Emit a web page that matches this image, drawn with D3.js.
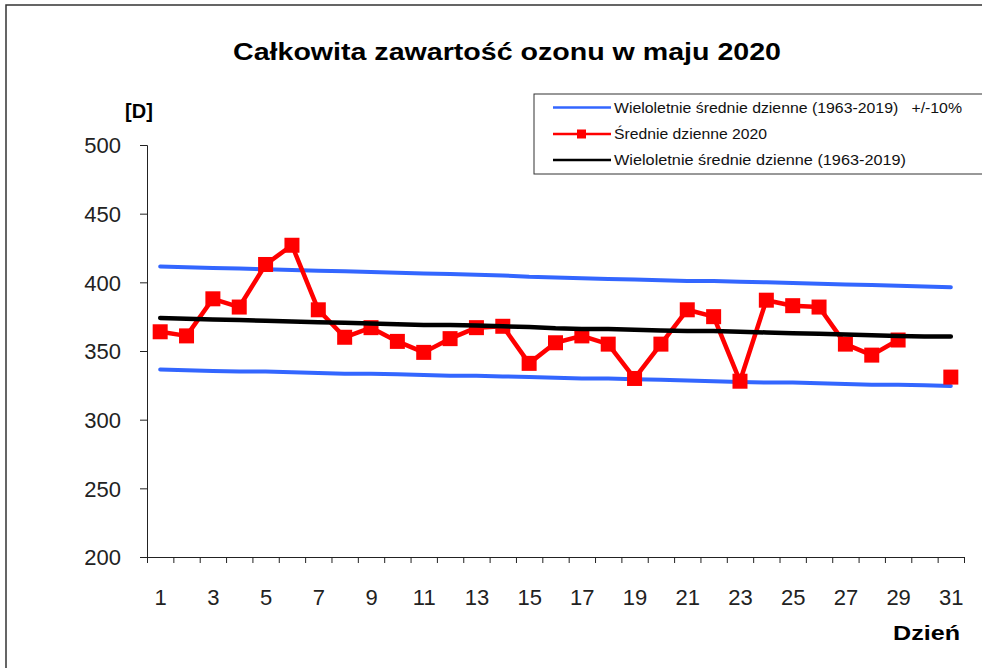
<!DOCTYPE html>
<html>
<head>
<meta charset="utf-8">
<script src="https://cdn.jsdelivr.net/npm/d3@7"></script>
<style>
  body { margin: 0; background: #fff; }
  svg { display: block; font-family: "Liberation Sans", Arial, sans-serif; }
</style>
</head>
<body>
<svg id="chart"></svg>
<script>
document.addEventListener("DOMContentLoaded", function() {

    // canvas size
    var width = 982;
    var height = 668;

    // plot area (pixel box of the axes)
    var plot = { left: 147, right: 964, top: 145, bottom: 557 };

    // day numbers of May
    var days = [1, 2, 3, 4, 5, 6, 7, 8, 9, 10, 11, 12, 13, 14, 15, 16,
                17, 18, 19, 20, 21, 22, 23, 24, 25, 26, 27, 28, 29, 30, 31];

    // daily means 2020 [D] (day 30 missing)
    var daily2020 = [364, 361, 388, 382, 413, 427, 380, 360, 367, 357, 349, 359, 367, 368, 341, 356,
                     361, 355, 330, 355, 380, 375, 328, 387, 383, 382, 355, 347, 358, null, 331];

    // long-term daily means 1963-2019
    var longTermMean = [374, 373.5, 373, 372.5, 372, 371.5, 371, 370.5, 370, 369.5, 369, 369, 368.5, 368, 367.5, 366.5,
                        366, 366, 365.5, 365, 364.5, 364.5, 364, 363.5, 363, 362.5, 362, 361.5, 361, 360.5, 360.5];

    // long-term daily means +10%
    var longTermUpper = [411.5, 411, 410.5, 410, 409.5, 409, 408.5, 408, 407.5, 407, 406.5, 406, 405.5, 405, 404, 403.5,
                         403, 402.5, 402, 401.5, 401, 401, 400.5, 400, 399.5, 399, 398.5, 398, 397.5, 397, 396.5];

    // long-term daily means -10%
    var longTermLower = [336.5, 336, 335.5, 335, 335, 334.5, 334, 333.5, 333.5, 333, 332.5, 332, 332, 331.5, 331, 330.5,
                         330, 330, 329.5, 329, 328.5, 328, 327.5, 327, 327, 326.5, 326, 325.5, 325.5, 325, 324.5];

    // tick labels
    var yTicks = [200, 250, 300, 350, 400, 450, 500];
    var xLabels = [1, 3, 5, 7, 9, 11, 13, 15, 17, 19, 21, 23, 25, 27, 29, 31];

    var colors = {
        band: "#3366ff",
        daily: "#ff0000",
        mean: "#000000"
    };

    var svg = d3.select("#chart")
        .attr("width", width)
        .attr("height", height);

    // outer chart frame (right and bottom edges fall outside the picture)
    svg.append("rect")
        .attr("x", 6)
        .attr("y", 5)
        .attr("width", 1000)
        .attr("height", 700)
        .attr("fill", "#fff")
        .attr("stroke", "#333")
        .attr("stroke-width", 1.5);

    // scales
    var xScale = d3.scaleLinear()
        .domain([0.5, 31.5])
        .range([plot.left, plot.right]);
    var yScale = d3.scaleLinear()
        .domain([200, 500])
        .range([plot.bottom, plot.top]);

    // title
    svg.append("text")
        .attr("x", 507)
        .attr("y", 60)
        .attr("text-anchor", "middle")
        .attr("font-size", 24)
        .attr("font-weight", "bold")
        .attr("textLength", 548)
        .attr("lengthAdjust", "spacingAndGlyphs")
        .text("Całkowita zawartość ozonu w maju 2020");

    // y axis
    var yAxis = svg.append("g")
        .attr("transform", `translate(${plot.left},0)`)
        .call(d3.axisLeft(yScale).tickValues(yTicks).tickSize(7).tickPadding(19));

    // x axis: ticks between the days
    var boundaries = days.map(d => d - 0.5).concat([31.5]);
    var xAxis = svg.append("g")
        .attr("transform", `translate(0,${plot.bottom})`)
        .call(d3.axisBottom(xScale).tickValues(boundaries).tickSize(6).tickFormat(""));

    // x labels on odd days
    var xLabelAxis = svg.append("g")
        .attr("transform", `translate(0,${plot.bottom})`)
        .call(d3.axisBottom(xScale).tickValues(xLabels).tickSize(0).tickPadding(32).tickFormat(d3.format("d")));
    xLabelAxis.select(".domain").remove();

    [yAxis, xAxis, xLabelAxis].forEach(function(g) {
        g.selectAll("path, line").attr("stroke", "#222");
        g.selectAll("text")
            .attr("font-size", 22)
            .attr("font-family", "'Liberation Sans', Arial, sans-serif")
            .attr("fill", "#222");
    });
    yAxis.selectAll("text").attr("dy", "0.36em");

    // axis titles
    svg.append("text")
        .attr("x", 139)
        .attr("y", 118)
        .attr("text-anchor", "middle")
        .attr("font-size", 20)
        .attr("font-weight", "bold")
        .text("[D]");

    svg.append("text")
        .attr("x", 960)
        .attr("y", 640)
        .attr("text-anchor", "end")
        .attr("font-size", 20)
        .attr("font-weight", "bold")
        .attr("textLength", 67)
        .attr("lengthAdjust", "spacingAndGlyphs")
        .text("Dzień");

    // series lines
    function lineFor(values) {
        return d3.line()
            .defined((d, i) => values[i] !== null)
            .x(d => xScale(d))
            .y((d, i) => yScale(values[i]))(days);
    }

    var lines = svg.append("g");

    [longTermUpper, longTermLower].forEach(function(values) {
        lines.append("path")
            .attr("d", lineFor(values))
            .attr("fill", "none")
            .attr("stroke", colors.band)
            .attr("stroke-width", 4)
            .attr("stroke-linecap", "round")
            .attr("stroke-linejoin", "round");
    });

    lines.append("path")
        .attr("d", lineFor(daily2020))
        .attr("fill", "none")
        .attr("stroke", colors.daily)
        .attr("stroke-width", 4.5)
        .attr("stroke-linejoin", "round");

    var markerSize = 15;
    lines.selectAll("rect.marker")
        .data(days.filter((d, i) => daily2020[i] !== null))
        .enter()
        .append("rect")
        .attr("class", "marker")
        .attr("x", d => xScale(d) - markerSize / 2)
        .attr("y", d => yScale(daily2020[d - 1]) - markerSize / 2)
        .attr("width", markerSize)
        .attr("height", markerSize)
        .attr("fill", colors.daily);

    lines.append("path")
        .attr("d", lineFor(longTermMean))
        .attr("fill", "none")
        .attr("stroke", colors.mean)
        .attr("stroke-width", 4.5)
        .attr("stroke-linecap", "round")
        .attr("stroke-linejoin", "round");

    // legend
    var legend = svg.append("g");
    legend.append("rect")
        .attr("x", 534)
        .attr("y", 94)
        .attr("width", 500)
        .attr("height", 80)
        .attr("fill", "#fff")
        .attr("stroke", "#333")
        .attr("stroke-width", 1);

    var legendItems = [
        { label: "Wieloletnie średnie dzienne (1963-2019)   +/-10%", color: colors.band, marker: false, y: 107.5, len: 348 },
        { label: "Średnie dzienne 2020", color: colors.daily, marker: true, y: 134, len: 153 },
        { label: "Wieloletnie średnie dzienne (1963-2019)", color: colors.mean, marker: false, y: 160, len: 292 }
    ];

    legendItems.forEach(function(item) {
        legend.append("line")
            .attr("x1", 553)
            .attr("x2", 611)
            .attr("y1", item.y)
            .attr("y2", item.y)
            .attr("stroke", item.color)
            .attr("stroke-width", 2.5);
        if (item.marker) {
            legend.append("rect")
                .attr("x", 577)
                .attr("y", item.y - 4.5)
                .attr("width", 9)
                .attr("height", 9)
                .attr("fill", item.color);
        }
        legend.append("text")
            .attr("x", 614)
            .attr("y", item.y + 5)
            .attr("font-size", 14)
            .attr("fill", "#111")
            .attr("textLength", item.len)
            .attr("lengthAdjust", "spacingAndGlyphs")
            .style("white-space", "pre")
            .text(item.label);
    });

});
</script>
</body>
</html>
